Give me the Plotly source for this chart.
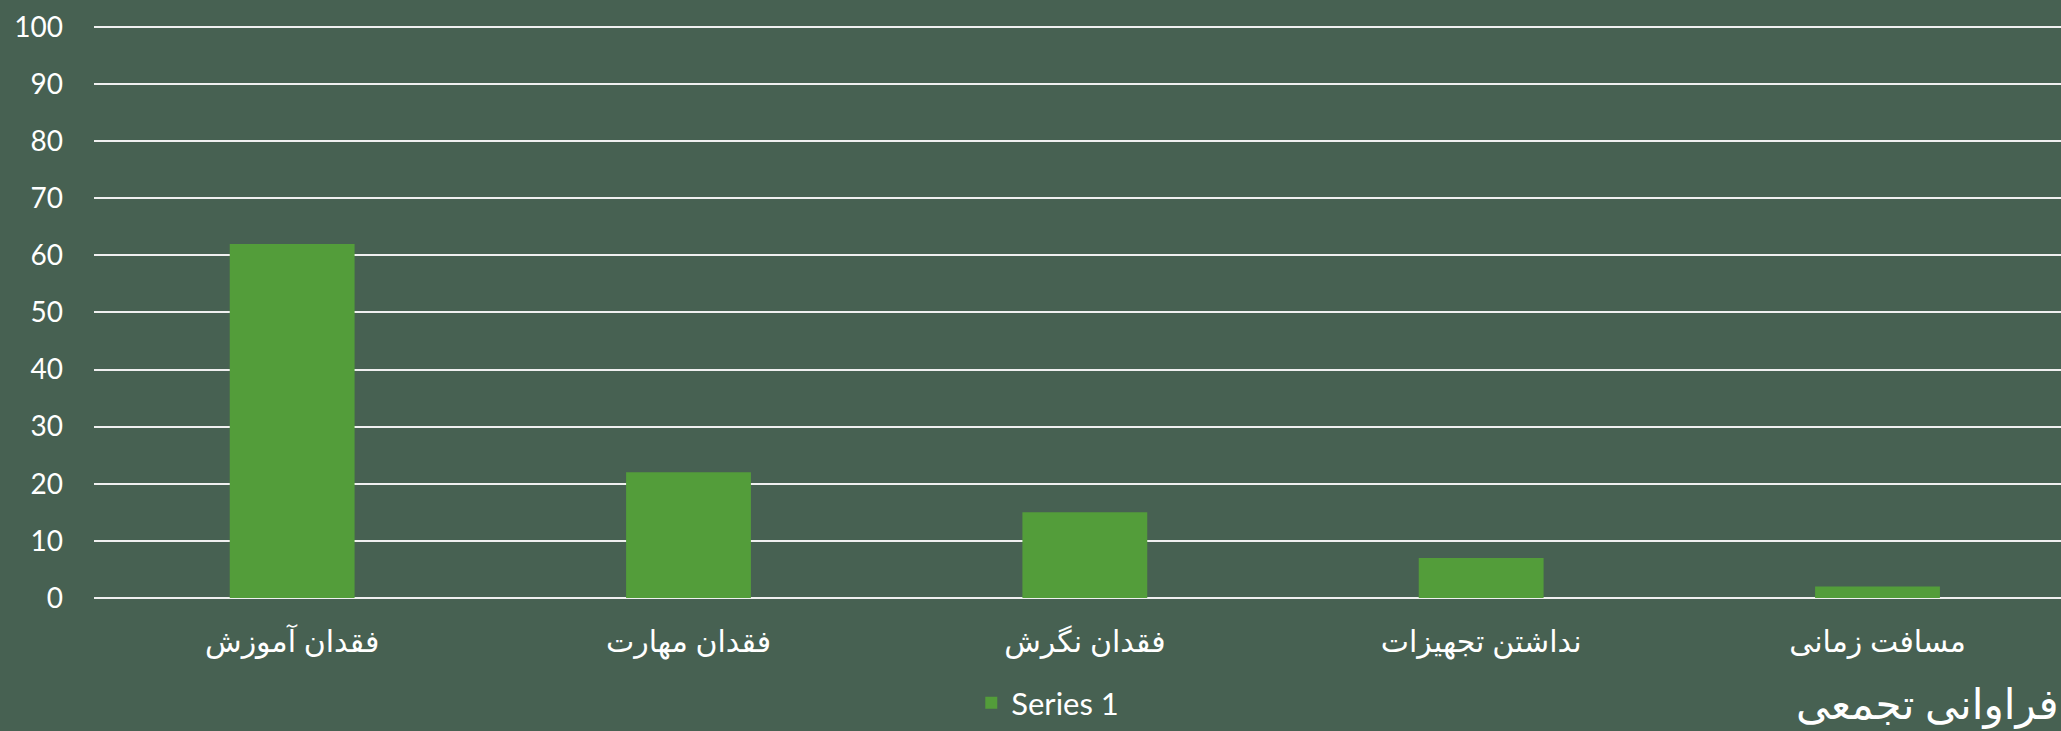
import plotly.graph_objects as go

categories = ["فقدان آموزش", "فقدان مهارت", "فقدان نگرش", "نداشتن تجهیزات", "مسافت زمانی"]
values = [62, 22, 15, 7, 2]
series_name = "Series 1"
y_ticks = [0, 10, 20, 30, 40, 50, 60, 70, 80, 90, 100]
title_text = "فراوانی تجمعی"

BG = "#476152"
BAR = "#539D3A"
GRID = "#F0F0F0"
FONT = "Lato, 'DejaVu Sans', sans-serif"

fig = go.Figure()
fig.add_trace(go.Bar(x=categories, y=values, name=series_name,
                     marker=dict(color=BAR, line=dict(width=0)), showlegend=True))

fig.update_layout(
    width=2061, height=731,
    margin=dict(l=94, r=0, t=24, b=133),
    paper_bgcolor=BG, plot_bgcolor=BG,
    bargap=0.685,
    font=dict(family=FONT, color="white", size=30),
    showlegend=True,
    legend=dict(orientation="h", x=0.446, xanchor="left", y=-0.183, yanchor="middle",
                font=dict(size=31, color="white", family=FONT), bgcolor="rgba(0,0,0,0)"),
    xaxis=dict(range=[-0.5, 4.463], showgrid=False, zeroline=False, showline=False, ticks="",
               tickfont=dict(size=30, color="white", family=FONT), ticklabelstandoff=23),
    yaxis=dict(range=[0, 100.5], tickvals=y_ticks, showgrid=True, gridcolor=GRID, gridwidth=2,
               zeroline=True, zerolinecolor=GRID, zerolinewidth=2, showline=False, ticks="",
               tickfont=dict(size=28, color="white", family=FONT), ticklabelstandoff=30),
    annotations=[dict(text=title_text, xref="paper", yref="paper", x=1.0, y=-0.231,
                      xanchor="right", yanchor="bottom", showarrow=False,
                      font=dict(size=42, color="white", family=FONT))],
)

fig.write_html("out.html", config={"displayModeBar": False},
               post_script="document.body.style.margin='0';document.body.style.overflow='hidden';")
